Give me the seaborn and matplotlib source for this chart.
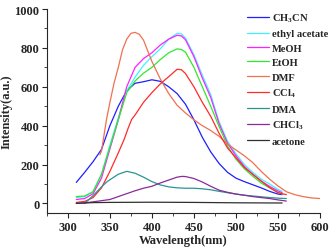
import numpy as np
import pandas as pd
import matplotlib
matplotlib.use("Agg")
from matplotlib import pyplot as plt
from matplotlib.ticker import MultipleLocator
import seaborn as sns

# readings from the spectra (wavelength in nm, intensity in a.u.)
wl_ch3cn = [310, 320, 330, 340, 350, 360, 370, 380, 390, 400, 410, 420, 430, 440, 450,
            460, 470, 480, 490, 500, 510, 520, 530, 540, 550, 555]
ch3cn = [108, 160, 215, 278, 400, 500, 580, 618, 626, 636, 628, 600, 565, 510, 430,
         340, 265, 205, 160, 130, 112, 96, 80, 62, 48, 45]

wl_main = [310, 320, 330, 340, 350, 360, 370, 380, 390, 400, 410, 420, 430, 435, 440,
           450, 460, 470, 480, 490, 500, 510, 520, 530, 540, 550, 555]
ethyl_acetate = [30, 35, 60, 150, 300, 440, 580, 650, 710, 755, 795, 845, 875, 872, 850,
                 765, 660, 560, 420, 320, 255, 200, 160, 125, 100, 72, 62]
meoh = [20, 25, 50, 130, 280, 430, 600, 700, 745, 775, 815, 845, 865, 862, 842,
        755, 645, 545, 410, 310, 245, 190, 150, 115, 88, 64, 55]
etoh = [35, 38, 60, 150, 290, 430, 570, 630, 670, 700, 740, 775, 795, 792, 778,
        700, 600, 500, 395, 295, 228, 178, 140, 105, 80, 57, 48]

wl_dmf = [338, 340, 346, 350, 355, 360, 365, 370, 375, 380, 385, 390, 400, 410, 420,
          430, 440, 450, 460, 470, 480, 490, 500, 510, 520, 530, 540, 550, 560, 570,
          580, 590, 600]
dmf = [250, 270, 433, 520, 620, 700, 790, 845, 875, 880, 870, 840, 730, 640, 565,
       505, 465, 430, 400, 375, 345, 305, 275, 245, 210, 165, 125, 90, 60, 45,
       35, 28, 25]

wl_ccl4 = [310, 320, 330, 340, 350, 360, 367, 372, 376, 380, 390, 400, 410, 420, 430,
           435, 440, 450, 460, 470, 480, 490, 500, 510, 520, 530, 540, 550, 560]
ccl4 = [5, 10, 30, 80, 165, 260, 330, 390, 433, 455, 520, 570, 615, 652, 690,
        688, 668, 600, 520, 448, 360, 285, 235, 185, 150, 115, 82, 55, 45]

wl_dma = [320, 330, 340, 347, 360, 370, 380, 390, 400, 410, 420, 430, 440, 450, 460,
          470, 480, 490, 500, 510, 520, 530, 540, 550, 560]
dma = [0, 40, 85, 113, 150, 165, 155, 135, 112, 95, 85, 80, 78, 78, 75,
       70, 62, 55, 48, 42, 38, 34, 30, 27, 25]

wl_chcl3 = [310, 320, 330, 340, 350, 360, 370, 380, 390, 400, 410, 420, 430, 436, 440,
            450, 460, 470, 480, 490, 500, 510, 520, 530, 540, 550, 560]
chcl3 = [0, 3, 8, 14, 20, 35, 50, 65, 78, 88, 105, 120, 135, 139, 138,
         128, 110, 88, 68, 57, 48, 42, 35, 30, 25, 18, 12]

wl_acetone = [310, 330, 350, 400, 450, 500, 555]
acetone = [0, 4, 5, 6, 5, 3, 2]

solvents = ["CH$_\\mathregular{3}$CN", "ethyl acetate", "MeOH", "EtOH", "DMF",
            "CCl$_\\mathregular{4}$", "DMA", "CHCl$_\\mathregular{3}$", "acetone"]
colors = ["#1f1fff", "#3ff2ff", "#ff20ff", "#2fe82f", "#f07050",
          "#ff2a2a", "#2a9494", "#8a2a9a", "#303030"]

series = [(wl_ch3cn, ch3cn), (wl_main, ethyl_acetate), (wl_main, meoh), (wl_main, etoh),
          (wl_dmf, dmf), (wl_ccl4, ccl4), (wl_dma, dma), (wl_chcl3, chcl3),
          (wl_acetone, acetone)]

frames = []
for name, (wl, val) in zip(solvents, series):
    frames.append(pd.DataFrame({"Wavelength": wl, "Intensity": val, "Solvent": name}))
df = pd.concat(frames, ignore_index=True)

sns.set_style("ticks")
plt.rcParams["font.family"] = ["Liberation Serif", "DejaVu Serif"]
plt.rcParams["font.weight"] = "bold"
plt.rcParams["axes.labelweight"] = "bold"

fig = plt.figure(figsize=(3.35, 2.51), dpi=100)
ax = fig.add_axes([0.140, 0.147, 0.815, 0.813])

sns.lineplot(data=df, x="Wavelength", y="Intensity", hue="Solvent",
             hue_order=solvents, palette=colors, sort=False, estimator=None,
             linewidth=0.9, ax=ax)

ax.set_xlim(275, 600)
ax.set_ylim(-50, 1000)
ax.xaxis.set_major_locator(MultipleLocator(50))
ax.xaxis.set_minor_locator(MultipleLocator(25))
ax.yaxis.set_major_locator(MultipleLocator(200))
ax.yaxis.set_minor_locator(MultipleLocator(100))
ax.tick_params(which="major", length=3.5, width=0.8, labelsize=9, pad=2)
ax.tick_params(which="minor", length=2, width=0.6)
for lab in ax.get_xticklabels() + ax.get_yticklabels():
    lab.set_fontweight("bold")
sns.despine(ax=ax)
ax.spines["left"].set_linewidth(0.8)
ax.spines["bottom"].set_linewidth(0.8)

ax.set_xlabel("Wavelength(nm)", fontsize=9, fontweight="bold", labelpad=1)
ax.set_ylabel("Intensity(a.u.)", fontsize=9, fontweight="bold", labelpad=1)

handles, labels = ax.get_legend_handles_labels()
ax.legend(handles, labels, loc="upper left", bbox_to_anchor=(0.705, 1.025),
          frameon=False, handlelength=2.1, handletextpad=0.3,
          labelspacing=0.47, borderpad=0.2, prop={"weight": "bold", "size": 7.6})

fig.savefig("out.png", dpi=100)
